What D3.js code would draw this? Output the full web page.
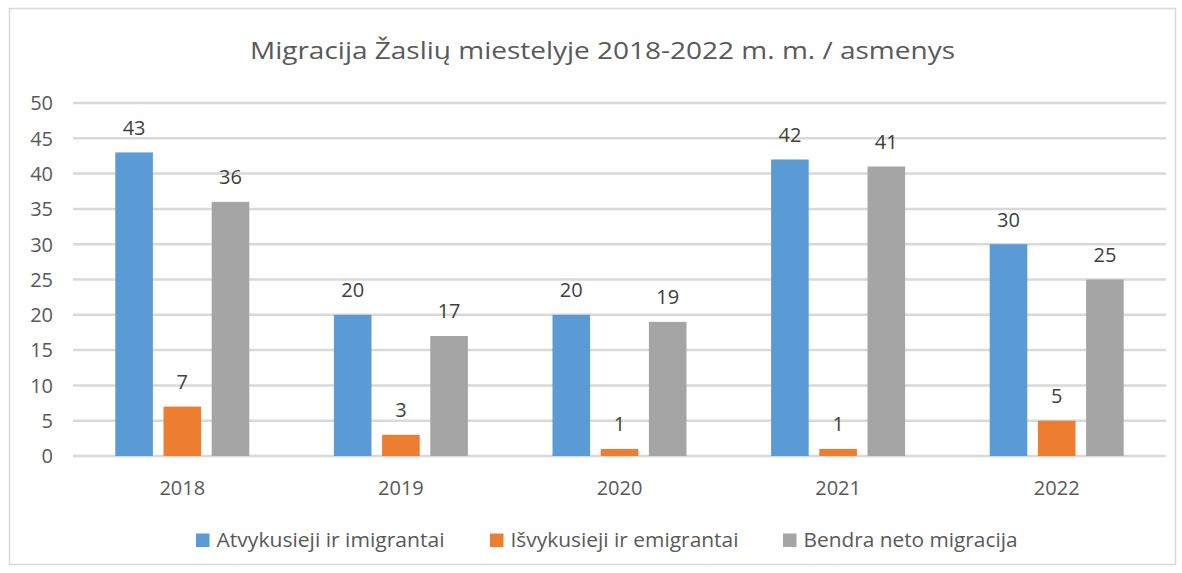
<!DOCTYPE html>
<html><head><meta charset="utf-8">
<script src="https://cdn.jsdelivr.net/npm/d3@7"></script>
<style>body{margin:0;background:#fff}svg{display:block}</style>
</head><body>
<script>
const categories = ["2018","2019","2020","2021","2022"];
const seriesNames = ["Atvykusieji ir imigrantai","Išvykusieji ir emigrantai","Bendra neto migracija"];
const atvykusieji = [43,20,20,42,30];
const isvykusieji = [7,3,1,1,5];
const neto = [36,17,19,41,25];
const yTicks = [0,5,10,15,20,25,30,35,40,45,50];
const title = "Migracija Žaslių miestelyje 2018-2022 m. m. / asmenys";
const colors = ["#5b9bd5","#ed7d31","#a5a5a5"];
const seriesValues = [atvykusieji, isvykusieji, neto];

const W=1182,H=573;
const font = "'Open Sans', 'Liberation Sans', sans-serif";
const svg = d3.select("body").append("svg").attr("width",W).attr("height",H);
svg.append("rect").attr("x",9.5).attr("y",8.5).attr("width",1166).attr("height",556)
  .attr("fill","#fff").attr("stroke","#d9d9d9").attr("stroke-width",1.5);

const pLeft=73,pRight=1166,pTop=103,pBottom=456;
const x = d3.scaleBand().domain(categories).range([pLeft,pRight]).paddingInner(0).paddingOuter(0);
const y = d3.scaleLinear().domain([0,50]).range([pBottom,pTop]);
const groupW = 134;
const x1 = d3.scaleBand().domain(d3.range(3)).range([0,groupW]).paddingInner(0.22).paddingOuter(0);

// title
svg.append("text").attr("x",602.5).attr("y",58.5).attr("text-anchor","middle")
  .attr("font-family",font).attr("font-size",23).attr("fill","#595959")
  .attr("textLength",705).attr("lengthAdjust","spacingAndGlyphs").text(title);

// gridlines
const grid = svg.append("g");
grid.selectAll("line").data(yTicks).join("line")
  .attr("x1",pLeft).attr("x2",pRight).attr("y1",d=>y(d)).attr("y2",d=>y(d))
  .attr("stroke","#d9d9d9").attr("stroke-width",2.5);

// y axis
const yAxis = svg.append("g").attr("transform",`translate(${pLeft-20},0)`)
  .call(d3.axisLeft(y).tickValues(yTicks).tickSize(0).tickPadding(0));
yAxis.select(".domain").remove();
yAxis.selectAll("text").attr("font-family",font).attr("font-size",20).attr("fill","#595959").attr("dy","0.34em");

// x axis
const xAxis = svg.append("g").attr("transform",`translate(0,${pBottom})`)
  .call(d3.axisBottom(x).tickSize(0).tickPadding(0));
xAxis.select(".domain").remove();
xAxis.selectAll("text").attr("font-family",font).attr("font-size",20).attr("fill","#595959")
  .attr("y",39).attr("dy",0);

// bars
const groups = svg.append("g").selectAll("g").data(categories).join("g")
  .attr("transform",d=>`translate(${x(d)+(x.bandwidth()-groupW)/2},0)`);
groups.each(function(c,i){
  const g=d3.select(this);
  seriesValues.forEach((vals,s)=>{
    g.append("rect").attr("x",x1(s)).attr("width",x1.bandwidth())
      .attr("y",y(vals[i])).attr("height",y(0)-y(vals[i])).attr("fill",colors[s]);
    g.append("text").attr("x",x1(s)+x1.bandwidth()/2).attr("y",y(vals[i])-17.5)
      .attr("text-anchor","middle").attr("font-family",font).attr("font-size",20)
      .attr("fill","#404040").text(vals[i]);
  });
});

// legend
const legendX=[196,490,783], legendTextW=[228,228,214];
const lg = svg.append("g");
seriesNames.forEach((n,s)=>{
  lg.append("rect").attr("x",legendX[s]).attr("y",533.5).attr("width",13.5).attr("height",13.5).attr("fill",colors[s]);
  lg.append("text").attr("x",legendX[s]+20.5).attr("y",547).attr("font-family",font).attr("font-size",19.5)
    .attr("fill","#595959").attr("textLength",legendTextW[s]).attr("lengthAdjust","spacingAndGlyphs").text(n);
});
</script>
</body></html>
